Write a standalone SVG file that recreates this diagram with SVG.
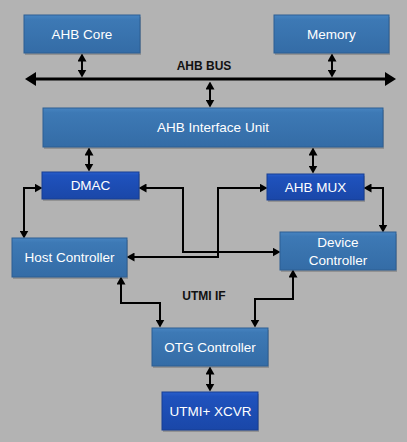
<svg xmlns="http://www.w3.org/2000/svg" width="407" height="442" viewBox="0 0 407 442">
<defs>
<linearGradient id="gMid" x1="0" y1="0" x2="0" y2="1">
<stop offset="0" stop-color="#4784c1"/>
<stop offset="0.12" stop-color="#3d79b5"/>
<stop offset="1" stop-color="#346ca6"/>
</linearGradient>
<linearGradient id="gDark" x1="0" y1="0" x2="0" y2="1">
<stop offset="0" stop-color="#2a5fcc"/>
<stop offset="0.12" stop-color="#1f52bd"/>
<stop offset="1" stop-color="#1a47a8"/>
</linearGradient>
<marker id="ah" viewBox="0 0 8 9" markerWidth="8" markerHeight="9" refX="5.5" refY="4.5" orient="auto-start-reverse" markerUnits="userSpaceOnUse">
<path d="M0,0 L8,4.5 L0,9 z" fill="#000"/>
</marker>
<marker id="bh" viewBox="0 0 11 14" markerWidth="11" markerHeight="14" refX="8" refY="7" orient="auto-start-reverse" markerUnits="userSpaceOnUse">
<path d="M0,0 L11,7 L0,14 z" fill="#000"/>
</marker>
</defs>
<style>
.mid{fill:url(#gMid);stroke:#2d5f93;stroke-width:1}
.dark{fill:url(#gDark);stroke:#173e93;stroke-width:1}
.sh{fill:#000;opacity:0.18}
.t{font-family:"Liberation Sans",Arial,sans-serif;font-size:13.5px;fill:#fff;text-anchor:middle}
.lb{font-family:"Liberation Sans",Arial,sans-serif;font-size:12px;font-weight:bold;fill:#111;text-anchor:middle}
.c{fill:none;stroke:#000;stroke-width:2;marker-start:url(#ah);marker-end:url(#ah)}
.bus{fill:none;stroke:#000;stroke-width:3;marker-start:url(#bh);marker-end:url(#bh)}
</style>
<rect x="0" y="0" width="407" height="442" fill="#b3b3b3"/>
<g id="connectors">
<path class="bus" d="M28,79 L393,79"/>
<path class="c" d="M82,56 L82,75"/>
<path class="c" d="M332,56 L332,75"/>
<path class="c" d="M210,84 L210,105"/>
<path class="c" d="M89,150 L89,169"/>
<path class="c" d="M313,150 L313,171"/>
<path class="c" d="M40,188 L24,188 L24,236"/>
<path class="c" d="M366,188 L383,188 L383,230"/>
<path class="c" d="M141,188 L183,188 L183,252 L278,252"/>
<path class="c" d="M265,188 L218,188 L218,257 L129,257"/>
<path class="c" d="M121,279 L121,303 L160,303 L160,325"/>
<path class="c" d="M293,272 L293,299 L255,299 L255,325"/>
<path class="c" d="M210,369 L210,389"/>
</g>
<text class="lb" x="204" y="70">AHB BUS</text>
<text class="lb" x="204" y="300">UTMI IF</text>
<g id="ahb-core">
<rect class="sh" x="25" y="17" width="116" height="38"/>
<rect class="mid" x="24" y="15" width="116" height="38"/>
<text class="t" x="82" y="39">AHB Core</text>
</g>
<g id="memory">
<rect class="sh" x="275" y="17" width="115" height="38"/>
<rect class="mid" x="274" y="15" width="115" height="38"/>
<text class="t" x="331.5" y="39">Memory</text>
</g>
<g id="ahb-interface-unit">
<rect class="sh" x="44" y="110" width="340" height="39"/>
<rect class="mid" x="43" y="108" width="340" height="39"/>
<text class="t" x="213" y="132">AHB Interface Unit</text>
</g>
<g id="dmac">
<rect class="sh" x="43" y="174" width="97" height="27"/>
<rect class="dark" x="42" y="172" width="97" height="27"/>
<text class="t" x="90.5" y="190">DMAC</text>
</g>
<g id="ahb-mux">
<rect class="sh" x="268" y="176" width="97" height="26"/>
<rect class="dark" x="267" y="174" width="97" height="26"/>
<text class="t" x="315.5" y="192">AHB MUX</text>
</g>
<g id="host-controller">
<rect class="sh" x="13" y="240" width="115" height="39"/>
<rect class="mid" x="12" y="238" width="115" height="39"/>
<text class="t" x="69.5" y="262">Host Controller</text>
</g>
<g id="device-controller">
<rect class="sh" x="281" y="234" width="116" height="38"/>
<rect class="mid" x="280" y="232" width="116" height="38"/>
<text class="t" x="338" y="247">Device</text>
<text class="t" x="338" y="265">Controller</text>
</g>
<g id="otg-controller">
<rect class="sh" x="153" y="330" width="116" height="38"/>
<rect class="mid" x="152" y="328" width="116" height="38"/>
<text class="t" x="210" y="352">OTG Controller</text>
</g>
<g id="utmi-xcvr">
<rect class="sh" x="163" y="394" width="96" height="38"/>
<rect class="dark" x="162" y="392" width="96" height="38"/>
<text class="t" x="210.5" y="416">UTMI+ XCVR</text>
</g>
</svg>
